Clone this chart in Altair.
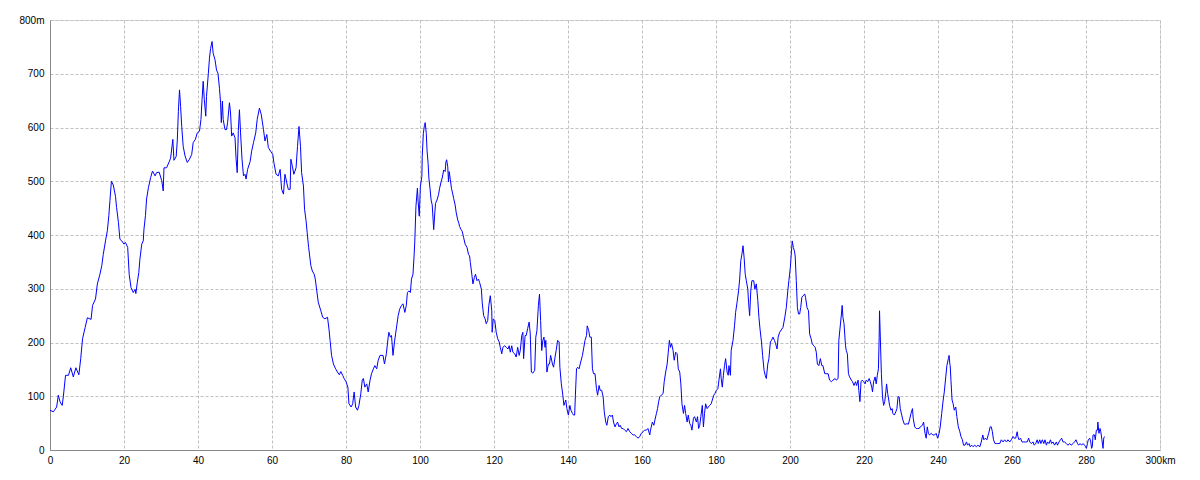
import altair as alt
import pandas as pd

distance_km = [
    0.0, 0.9, 1.8, 2.25, 2.7, 3.3, 3.6, 4.2, 5.0, 5.6, 6.3, 7.0, 7.8, 8.3, 8.8, 9.5, 10.1, 11.1, 11.5, 12.3,
    12.8, 13.5, 14.0, 14.4, 15.0, 15.5, 15.9, 16.2, 16.6, 17.1, 17.7, 18.0, 18.5, 18.9, 19.4, 20.0, 20.4, 21.0, 21.4, 21.9,
    22.5, 23.0, 23.2, 23.6, 24.0, 24.3, 24.8, 25.2, 25.4, 25.8, 26.1, 26.6, 27.2, 27.7, 28.4, 28.8, 29.5, 30.2, 30.6, 30.8,
    31.5, 32.2, 32.6, 33.2, 33.5, 34.1, 34.4, 34.7, 35.0, 35.3, 35.6, 36.0, 36.5, 37.1, 37.7, 38.3, 38.7, 39.3, 39.8, 40.4,
    40.8, 41.1, 41.4, 41.7, 42.1, 42.3, 42.8, 43.1, 43.4, 43.8, 44.1, 44.6, 45.0, 45.4, 45.8, 46.1, 46.3, 46.6, 46.8, 47.3,
    47.7, 48.0, 48.5, 48.8, 49.1, 49.5, 50.0, 50.3, 50.6, 50.9, 51.2, 51.5, 51.9, 52.3, 52.7, 53.0, 53.4, 54.1, 54.5, 55.0,
    55.6, 56.0, 56.6, 57.1, 57.7, 58.1, 58.6, 59.0, 59.6, 60.2, 60.5, 61.1, 61.7, 62.2, 62.6, 63.1, 63.5, 64.0, 64.4, 64.9,
    65.1, 65.5, 65.9, 66.5, 66.9, 67.3, 67.7, 68.0, 68.5, 68.8, 69.2, 69.5, 69.9, 70.5, 70.9, 71.4, 71.7, 72.1, 72.5, 73.2,
    73.7, 74.3, 75.0, 75.4, 75.7, 76.1, 76.6, 77.2, 77.7, 78.2, 78.6, 79.1, 79.5, 80.0, 80.5, 80.8, 81.4, 81.8, 82.2, 82.6,
    83.1, 83.5, 84.0, 84.4, 84.7, 85.1, 85.6, 86.0, 86.5, 86.9, 87.4, 87.8, 88.3, 88.7, 89.2, 90.0, 90.4, 90.9, 91.4, 91.6,
    92.0, 92.3, 92.7, 93.1, 93.4, 94.1, 94.5, 95.0, 95.4, 95.9, 96.3, 96.6, 97.0, 97.4, 97.7, 98.1, 98.4, 98.6, 98.9, 99.3,
    99.5, 99.8, 100.1, 100.5, 100.6, 100.9, 101.2, 101.4, 101.7, 101.9, 102.2, 102.4, 102.7, 103.0, 103.3, 103.7, 104.0, 104.2, 104.6, 105.0,
    105.3, 105.7, 106.0, 106.4, 106.8, 107.0, 107.2, 107.5, 107.7, 107.9, 108.2, 108.5, 108.8, 109.1, 109.5, 109.8, 110.2, 110.5, 110.7, 111.1,
    111.4, 111.8, 112.2, 112.7, 113.1, 113.4, 113.6, 114.0, 114.3, 114.7, 115.0, 115.4, 115.8, 116.1, 116.6, 116.8, 117.2, 117.6, 117.9, 118.3,
    118.6, 119.0, 119.4, 119.5, 119.8, 120.2, 120.6, 121.0, 121.4, 121.7, 122.1, 122.4, 122.9, 123.3, 123.8, 124.1, 124.4, 124.8, 125.1, 125.6,
    126.0, 126.4, 126.8, 127.1, 127.5, 127.8, 128.0, 128.4, 128.7, 129.1, 129.5, 129.8, 130.1, 130.5, 131.0, 131.3, 131.6, 132.0, 132.3, 132.6,
    132.9, 133.2, 133.5, 133.8, 134.0, 134.3, 134.7, 135.0, 135.3, 135.8, 136.1, 136.5, 136.8, 137.2, 137.6, 137.8, 138.2, 138.6, 138.9, 139.4,
    139.7, 140.1, 140.5, 140.8, 141.2, 141.5, 141.8, 142.0, 142.3, 142.6, 143.0, 143.3, 143.9, 144.2, 144.6, 145.0, 145.2, 145.6, 145.9, 146.3,
    146.6, 146.9, 147.3, 147.7, 148.0, 148.4, 148.7, 149.1, 149.5, 149.8, 150.2, 150.5, 150.9, 151.3, 151.6, 152.0, 152.3, 152.7, 153.1, 153.4,
    153.8, 154.1, 154.5, 154.9, 155.3, 155.8, 156.2, 156.7, 157.1, 157.6, 158.0, 158.5, 158.9, 159.4, 159.8, 160.3, 160.7, 161.2, 161.6, 162.1,
    162.3, 162.8, 163.2, 163.5, 163.9, 164.2, 164.5, 164.8, 165.2, 165.7, 166.0, 166.4, 166.8, 167.1, 167.4, 167.7, 168.0, 168.4, 168.7, 169.1,
    169.5, 169.8, 170.2, 170.5, 170.8, 171.2, 171.5, 171.8, 172.2, 172.5, 172.9, 173.2, 173.5, 173.9, 174.2, 174.7, 175.0, 175.3, 175.6, 175.9,
    176.3, 176.6, 176.9, 177.2, 177.6, 177.9, 178.3, 178.7, 179.0, 179.4, 179.7, 180.1, 180.5, 180.8, 181.2, 181.4, 181.7, 182.0, 182.3, 182.6,
    183.0, 183.3, 183.5, 183.9, 184.1, 184.6, 185.0, 185.3, 185.7, 186.1, 186.4, 186.7, 187.0, 187.3, 187.6, 187.9, 188.2, 188.6, 188.8, 189.1,
    189.4, 189.7, 190.2, 190.5, 190.9, 191.3, 191.6, 191.9, 192.3, 192.6, 193.0, 193.3, 193.6, 194.0, 194.3, 194.7, 195.0, 195.4, 195.8, 196.1,
    196.5, 196.8, 197.2, 198.1, 198.6, 199.0, 199.4, 199.7, 200.1, 200.4, 200.6, 200.9, 201.2, 201.4, 201.7, 202.0, 202.3, 202.6, 202.9, 203.2,
    203.5, 204.0, 204.2, 204.6, 205.0, 205.3, 205.7, 206.0, 206.4, 206.8, 207.1, 207.4, 207.8, 208.2, 208.6, 208.9, 209.4, 209.8, 210.3, 210.7,
    211.2, 211.6, 212.2, 212.5, 213.0, 213.2, 213.5, 213.9, 214.1, 214.3, 214.6, 215.0, 215.2, 215.5, 215.8, 216.1, 216.6, 216.9, 217.3, 217.7,
    218.0, 218.4, 218.6, 218.9, 219.2, 219.5, 219.9, 220.3, 220.6, 221.0, 221.4, 221.7, 222.1, 222.3, 222.6, 223.0, 223.3, 223.6, 223.9, 224.1,
    224.2, 224.4, 224.7, 225.0, 225.3, 225.6, 225.9, 226.1, 226.4, 226.7, 226.9, 227.3, 227.6, 227.8, 228.2, 228.6, 228.9, 229.2, 229.5, 229.8,
    230.2, 230.5, 230.9, 231.3, 231.6, 232.0, 232.3, 232.7, 233.1, 233.3, 233.7, 234.1, 234.5, 234.9, 235.2, 235.8, 236.1, 236.5, 236.8, 237.1,
    237.4, 237.7, 238.2, 238.6, 239.1, 239.5, 239.9, 240.3, 240.6, 241.0, 241.4, 241.7, 242.1, 242.4, 242.8, 243.0, 243.2, 243.3, 243.5, 243.8,
    244.1, 244.4, 244.8, 245.1, 245.5, 245.9, 246.2, 246.6, 246.9, 247.3, 247.7, 248.0, 248.4, 248.7, 249.1, 249.5, 249.9, 250.4, 250.8, 251.3,
    251.7, 252.1, 252.4, 252.8, 253.2, 253.7, 254.1, 254.4, 254.7, 255.0, 255.4, 255.8, 256.2, 256.7, 257.1, 257.6, 258.0, 258.5, 258.9, 259.4,
    259.8, 260.3, 260.6, 261.0, 261.4, 261.6, 261.9, 262.3, 262.7, 263.2, 263.6, 264.1, 264.5, 264.8, 265.2, 265.7, 266.0, 266.4, 266.8, 267.1,
    267.5, 267.8, 268.2, 268.6, 268.9, 269.3, 269.6, 270.0, 270.4, 270.7, 271.1, 271.5, 272.0, 272.3, 272.7, 273.1, 273.4, 273.8, 274.2, 274.7,
    275.1, 275.6, 276.0, 276.5, 276.9, 277.3, 277.7, 278.0, 278.4, 278.8, 279.2, 279.6, 279.9, 280.1, 280.4, 280.6, 281.0, 281.3, 281.5, 281.7,
    281.9, 282.3, 282.5, 282.8, 283.1, 283.2, 283.5, 283.8, 284.0, 284.3, 284.6, 284.8, 285.0,
]

elevation_m = [
    74, 71, 80, 102, 90, 83, 99, 139, 139, 153, 136, 153, 140, 170, 207, 228, 246, 243, 269, 281,
    309, 327, 343, 364, 389, 408, 436, 464, 500, 493, 472, 451, 423, 392, 389, 383, 386, 377, 327, 302,
    293, 299, 291, 312, 330, 355, 383, 389, 411, 436, 467, 488, 507, 519, 510, 516, 517, 501, 482, 525,
    525, 536, 543, 578, 539, 546, 575, 630, 670, 639, 602, 565, 547, 535, 541, 550, 572, 578, 590, 593,
    615, 652, 686, 652, 621, 658, 701, 729, 747, 760, 738, 726, 707, 701, 673, 646, 609, 649, 615, 596,
    596, 609, 646, 627, 584, 590, 581, 541, 516, 594, 633, 590, 541, 510, 513, 504, 522, 537, 556, 572,
    590, 615, 636, 624, 596, 575, 587, 563, 556, 550, 535, 513, 510, 522, 485, 476, 513, 497, 485, 485,
    541, 528, 513, 525, 565, 602, 565, 516, 491, 448, 427, 405, 377, 343, 333, 327, 318, 296, 275, 259,
    247, 244, 247, 225, 204, 176, 160, 151, 145, 140, 146, 139, 133, 127, 117, 86, 80, 86, 108, 80,
    74, 83, 105, 130, 133, 117, 123, 108, 130, 142, 151, 157, 151, 167, 176, 176, 160, 179, 210, 219,
    210, 213, 176, 201, 216, 250, 262, 269, 272, 256, 269, 293, 296, 293, 318, 327, 361, 389, 453, 487,
    462, 435, 490, 509, 546, 589, 604, 609, 589, 558, 533, 506, 487, 465, 456, 410, 441, 459, 465, 475,
    487, 499, 506, 521, 518, 536, 540, 527, 499, 518, 503, 487, 478, 468, 456, 441, 428, 422, 416, 410,
    407, 395, 383, 377, 364, 361, 349, 327, 309, 321, 327, 315, 318, 312, 299, 275, 250, 244, 235, 241,
    269, 287, 259, 219, 244, 241, 219, 207, 201, 191, 179, 191, 194, 191, 188, 194, 182, 194, 182, 179,
    173, 191, 176, 185, 213, 219, 170, 213, 213, 226, 238, 216, 145, 143, 148, 210, 222, 269, 290, 241,
    185, 204, 210, 191, 204, 145, 160, 160, 176, 160, 154, 173, 185, 204, 201, 154, 123, 102, 83, 93,
    77, 65, 83, 74, 68, 65, 65, 102, 151, 154, 151, 160, 176, 188, 204, 213, 231, 222, 210, 210,
    151, 142, 142, 114, 102, 120, 111, 111, 99, 71, 52, 46, 62, 65, 62, 65, 52, 43, 49, 52,
    43, 46, 40, 40, 37, 34, 40, 34, 31, 28, 28, 25, 22, 25, 31, 34, 37, 37, 40, 28,
    37, 52, 46, 56, 68, 77, 90, 99, 102, 105, 127, 145, 160, 182, 204, 191, 198, 185, 167, 182,
    179, 151, 145, 123, 86, 68, 83, 68, 52, 65, 49, 46, 37, 59, 62, 52, 62, 40, 46, 62,
    83, 43, 68, 86, 77, 80, 83, 86, 93, 102, 105, 111, 114, 130, 151, 133, 117, 139, 157, 170,
    145, 139, 157, 139, 185, 204, 231, 256, 275, 296, 318, 352, 364, 380, 358, 327, 315, 299, 275, 250,
    296, 315, 315, 299, 309, 278, 247, 225, 201, 176, 148, 139, 133, 160, 170, 201, 204, 210, 204, 198,
    188, 210, 219, 228, 247, 265, 296, 315, 340, 370, 389, 377, 370, 361, 315, 265, 253, 253, 265, 284,
    287, 290, 284, 265, 259, 216, 207, 198, 194, 191, 182, 160, 157, 170, 157, 157, 142, 142, 142, 130,
    127, 130, 133, 130, 133, 204, 225, 253, 269, 247, 235, 194, 185, 179, 142, 136, 130, 127, 120, 127,
    120, 130, 111, 90, 127, 130, 127, 123, 130, 127, 133, 127, 117, 108, 127, 136, 123, 139, 151, 210,
    259, 212, 142, 99, 83, 90, 108, 123, 105, 93, 83, 74, 77, 68, 65, 71, 77, 99, 99, 77,
    65, 56, 48, 48, 49, 48, 56, 68, 77, 59, 43, 40, 40, 40, 43, 46, 52, 31, 22, 43,
    31, 28, 31, 28, 28, 31, 22, 31, 43, 68, 93, 108, 136, 157, 170, 176, 160, 157, 130, 93,
    86, 74, 80, 62, 43, 34, 25, 19, 9, 9, 15, 9, 12, 6, 9, 6, 9, 6, 9, 6,
    15, 28, 19, 22, 19, 31, 43, 43, 34, 19, 12, 12, 12, 12, 19, 15, 19, 15, 19, 15,
    19, 25, 22, 22, 34, 25, 19, 22, 15, 15, 15, 15, 22, 15, 12, 15, 9, 12, 19, 12,
    19, 12, 19, 12, 19, 9, 15, 12, 19, 12, 15, 9, 15, 9, 15, 19, 22, 15, 15, 12,
    9, 12, 9, 12, 15, 19, 12, 9, 12, 9, 12, 9, 6, 3, 12, 19, 22, 15, 3, 6,
    28, 28, 19, 37, 37, 52, 31, 40, 34, 19, 3, 22, 25,
]

x_ticks = list(range(0, 301, 20))
y_ticks = list(range(0, 801, 100))

df = pd.DataFrame({"km": distance_km[:len(elevation_m)], "m": elevation_m[:len(distance_km)]})

FONT = "Liberation Sans"

chart = alt.Chart(df).mark_line(color="#0000ff", strokeWidth=1, interpolate="linear").encode(
    x=alt.X(
        "km:Q",
        scale=alt.Scale(domain=[0, 300], nice=False, zero=False),
        axis=alt.Axis(
            values=x_ticks, title=None, grid=True, ticks=False,
            gridColor="#c0c0c0", gridDash=[3, 2], gridWidth=1,
            labelExpr="datum.value == 300 ? '300km' : datum.label",
            labelPadding=5, labelFlush=False,
        ),
    ),
    y=alt.Y(
        "m:Q",
        scale=alt.Scale(domain=[0, 800], nice=False),
        axis=alt.Axis(
            values=y_ticks, title=None, grid=True, ticks=False,
            gridColor="#c0c0c0", gridDash=[3, 2], gridWidth=1,
            labelExpr="datum.value == 800 ? '800m' : datum.label",
            labelPadding=6, labelFlush=False,
        ),
    ),
).properties(
    width=1110,
    height=430,
    autosize=alt.AutoSizeParams(type="none"),
    padding={"left": 42, "top": 12, "right": 30, "bottom": 30},
).configure_view(
    stroke="black", strokeWidth=1,
).configure_axis(
    domainColor="black", domainWidth=1,
    labelFont=FONT, labelFontSize=11, labelColor="black",
).configure(background="white")

chart.save("out.html", embed_options={"renderer": "svg", "actions": False})
